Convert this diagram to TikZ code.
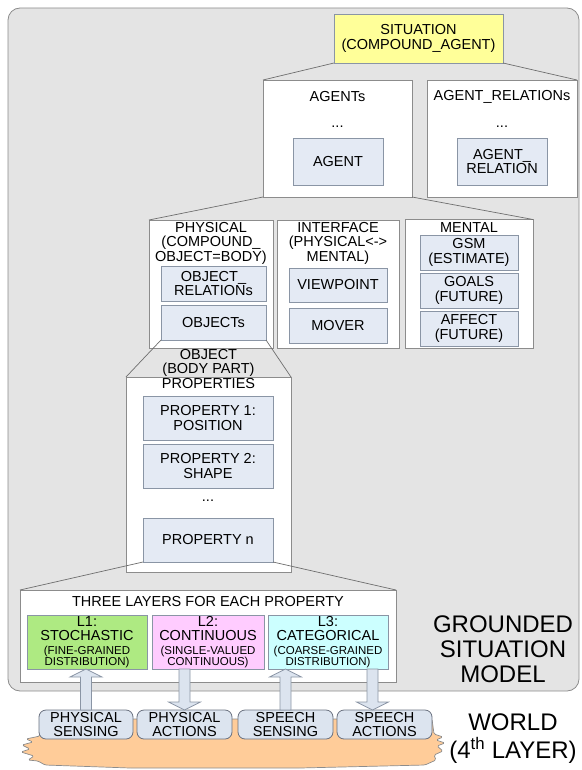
\documentclass[tikz,border=0pt]{standalone}
\usepackage{fontspec}
\setmainfont{Liberation Sans}
\usetikzlibrary{positioning, calc}
\definecolor{gsmGrey}{HTML}{E4E4E4}
\definecolor{panelLine}{HTML}{8C8C8C}
\definecolor{trapLine}{HTML}{6E6E6E}
\definecolor{unitBlue}{HTML}{E4EAF4}
\definecolor{unitLine}{HTML}{8A95A5}
\definecolor{situationYellow}{HTML}{FFFF99}
\definecolor{stochGreen}{HTML}{AEEA82}
\definecolor{contPink}{HTML}{FFCCFF}
\definecolor{catCyan}{HTML}{CCFFFF}
\definecolor{worldBlue}{HTML}{DCE4EF}
\definecolor{worldLine}{HTML}{6A7180}
\definecolor{cloudOrange}{HTML}{FFCC99}
\newcommand{\boxfont}{\fontsize{14.5}{14.5}\selectfont}
\newcommand{\smallfont}{\fontsize{11.5}{11.5}\selectfont}
\newcommand{\bigfont}{\fontsize{24}{25}\selectfont}
\tikzstyle{bgpanel} =[draw=panelLine, fill=gsmGrey, line width=0.8pt, rounded corners=12pt, inner sep=0pt, outer sep=0pt]
\tikzstyle{panel} =[draw=panelLine, fill=white, line width=0.8pt, inner sep=0pt, outer sep=0pt]
\tikzstyle{unit} =[draw=unitLine, fill=unitBlue, line width=0.8pt, inner sep=0pt, outer sep=0pt, align=center, font=\boxfont]
\tikzstyle{layerbox} =[draw=unitLine, line width=0.8pt, inner sep=0pt, outer sep=0pt, align=center, font=\boxfont, minimum height=54pt]
\tikzstyle{worldbox} =[draw=worldLine, fill=worldBlue, line width=0.8pt, rounded corners=7pt, inner sep=0pt, outer sep=0pt, align=center, font=\boxfont, minimum height=29pt, minimum width=95pt]
\tikzstyle{lbl} =[inner sep=0pt, align=center, font=\boxfont]
\tikzstyle{biglbl} =[inner sep=0pt, align=center, font=\bigfont]
\tikzstyle{trap} =[draw=trapLine, line width=0.7pt]
\tikzstyle{blockarrow} =[draw=unitLine, fill=worldBlue, line width=0.7pt]
\tikzstyle{cloudfill} =[draw=panelLine, fill=cloudOrange, line width=0.7pt, rounded corners=1.5pt]
\newcommand{\blockarrow}[2]{%
  \draw[blockarrow] let \p1=(#1), \p2=(#2), \n1={ifthenelse(\y2>\y1,-8,8)} in
    (\x1-5.5pt,\y1) -- (\x1-5.5pt,\y2+\n1*1pt) -- (\x1-16pt,\y2+\n1*1pt) -- (\x2,\y2)
    -- (\x1+16pt,\y2+\n1*1pt) -- (\x1+5.5pt,\y2+\n1*1pt) -- (\x1+5.5pt,\y1) -- cycle;}

\begin{document}
\begin{tikzpicture}[x=1pt, y=-1pt]
\useasboundingbox (0,0) rectangle (581,770);

\node (gsmPanel) [bgpanel, minimum width=571pt, minimum height=683pt] at (293.5,349.5) {};
\node (gsmLabel) [biglbl] at (503,649) {GROUNDED\\SITUATION\\MODEL};

\node (situation) [unit, fill=situationYellow, minimum width=169pt, minimum height=49pt] at (418.5,38.5) {SITUATION\\[1pt](COMPOUND\_AGENT)};

\node (agents) [panel, minimum width=149pt, minimum height=117pt] at (337.5,138.5) {};
\node (agentRels) [panel, minimum width=150pt, minimum height=117pt, right=15pt of agents] {};
\node (agentsTitle) [lbl] at (337.5,97) {AGENTs};
\node (agentRelsTitle) [lbl] at (agentRels |- agentsTitle) {AGENT\_RELATIONs};
\node (agentsDots) [lbl] at (337.5,127) {...};
\node (agentRelsDots) [lbl] at (agentRels |- agentsDots) {...};
\node (agent) [unit, minimum width=90pt, minimum height=47pt] at (338,161.5) {AGENT};
\node (agentRel) [unit, minimum width=90pt, minimum height=47pt] at (agentRels |- agent) {AGENT\_\\RELATION};

\draw[trap] (situation.south west) -- (agents.north west);
\draw[trap] (situation.south east) -- (agentRels.north east);

\node (physical) [panel, minimum width=124pt, minimum height=128pt] at (211,284) {};
\node (interface) [panel, minimum width=122pt, minimum height=128pt, right=4pt of physical] {};
\node (mental) [panel, minimum width=128pt, minimum height=129pt, right=6pt of interface] {};

\draw[trap] (agents.south west) -- (physical.north west);
\draw[trap] (agents.south east) -- (mental.north east);

\node (physicalTitle) [lbl] at (211,243) {PHYSICAL\\(COMPOUND\_\\OBJECT=BODY)};
\node (objRels) [unit, minimum width=105pt, minimum height=35pt] at (213.5,283.5) {OBJECT\_\\RELATIONs};
\node (objects) [unit, minimum width=105pt, minimum height=35pt, below=4pt of objRels] {OBJECTs};

\node (interfaceTitle) [lbl] at (338,243) {INTERFACE\\(PHYSICAL<->\\MENTAL)};
\node (viewpoint) [unit, minimum width=98pt, minimum height=34pt] at (338,285) {VIEWPOINT};
\node (mover) [unit, minimum width=98pt, minimum height=35pt, below=6pt of viewpoint] {MOVER};

\node (mentalTitle) [lbl] at (469,228) {MENTAL};
\node (gsmEst) [unit, minimum width=98pt, minimum height=35pt] at (469,252.5) {GSM\\(ESTIMATE)};
\node (goals) [unit, minimum width=98pt, minimum height=35pt, below=3pt of gsmEst] {GOALS\\(FUTURE)};
\node (affect) [unit, minimum width=98pt, minimum height=35pt, below=3pt of goals] {AFFECT\\(FUTURE)};

\node (object) [panel, minimum width=165pt, minimum height=195pt] at (208.5,474.5) {};
\draw[trap] (objects.south west) -- (object.north west);
\draw[trap] (objects.south east) -- (object.north east);
\node (objectTitle) [lbl] at (208.5,363) {OBJECT\\(BODY PART)};
\node (propTitle) [lbl] at (208.5,384) {PROPERTIES};
\node (prop1) [unit, minimum width=130pt, minimum height=44pt] at (208,418) {PROPERTY 1:\\POSITION};
\node (prop2) [unit, minimum width=130pt, minimum height=44pt, below=4pt of prop1] {PROPERTY 2:\\SHAPE};
\node (propDots) [lbl] at (208,501) {...};
\node (propN) [unit, minimum width=130pt, minimum height=44pt] at (208,540) {PROPERTY n};

\node (layers) [panel, minimum width=376pt, minimum height=92pt] at (208,636) {};
\draw[trap] (propN.south west) -- (layers.north west);
\draw[trap] (propN.south east) -- (layers.north east);
\node (layersTitle) [lbl] at (208,602) {THREE LAYERS FOR EACH PROPERTY};
\node (layer1) [layerbox, fill=stochGreen, minimum width=120pt] at (87,642)
  {L1:\\STOCHASTIC\\[-0.5pt]{\smallfont (FINE-GRAINED}\\[-3.5pt]{\smallfont DISTRIBUTION)}};
\node (layer2) [layerbox, fill=contPink, minimum width=112pt, right=5pt of layer1]
  {L2:\\CONTINUOUS\\[-0.5pt]{\smallfont (SINGLE-VALUED}\\[-3.5pt]{\smallfont CONTINUOUS)}};
\node (layer3) [layerbox, fill=catCyan, minimum width=120pt, right=4pt of layer2]
  {L3:\\CATEGORICAL\\[-0.5pt]{\smallfont (COARSE-GRAINED}\\[-3.5pt]{\smallfont DISTRIBUTION)}};

%world
\draw[cloudfill] (40,719) -- (432,719) -- (434,734) -- (443,737) -- (436,740) -- (445,743)
  -- (437,746) -- (443,751) -- (434,755) -- (436,760) -- (425,765) -- (300,768) -- (130,768)
  -- (45,765) -- (38,761) -- (28,760) -- (34,756) -- (21,752) -- (30,749) -- (22,745)
  -- (33,742) -- (26,739) -- (40,736) -- cycle;
\node (sense1) [worldbox, minimum width=94pt] at (86,724.5) {PHYSICAL\\SENSING};
\node (act1) [worldbox, right=4pt of sense1] {PHYSICAL\\ACTIONS};
\node (sense2) [worldbox, right=6pt of act1] {SPEECH\\SENSING};
\node (act2) [worldbox, right=4pt of sense2] {SPEECH\\ACTIONS};
\node (worldLabel) [biglbl] at (513,738.5) {WORLD\\[3pt](4\textsuperscript{th} LAYER)};
\coordinate (act2In) at ($(act2.north)+(-12pt,0pt)$);

\blockarrow{sense1.north}{sense1.north |- layer1.south}
\blockarrow{act1.north |- layer2.south}{act1.north}
\blockarrow{sense2.north}{sense2.north |- layer3.south}
\blockarrow{act2In |- layer3.south}{act2In}
\end{tikzpicture}
\end{document}
